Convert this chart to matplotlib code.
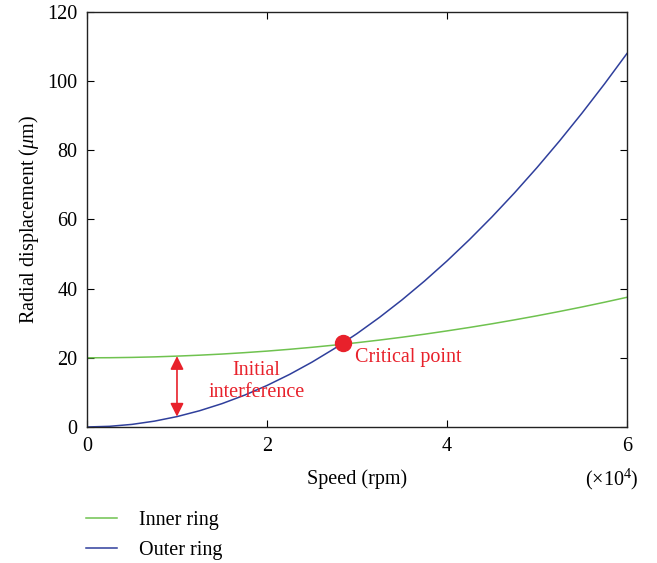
import matplotlib
matplotlib.use('Agg')
import matplotlib.pyplot as plt

plt.rcParams['font.family'] = ['Liberation Serif', 'DejaVu Serif']
plt.rcParams['mathtext.fontset'] = 'custom'
plt.rcParams['mathtext.rm'] = 'Liberation Serif'
plt.rcParams['mathtext.it'] = 'Liberation Serif:italic'

# Speed (x10^4 rpm)
speed = [0, 0.25, 0.5, 0.75, 1.0, 1.25, 1.5, 1.75, 2.0, 2.25, 2.5, 2.75, 3.0,
         3.25, 3.5, 3.75, 4.0, 4.25, 4.5, 4.75, 5.0, 5.25, 5.5, 5.75, 6.0]
# radial displacement (um)
inner_ring = [20.0, 20.03, 20.12, 20.27, 20.49, 20.76, 21.09, 21.49, 21.94, 22.46,
              23.04, 23.68, 24.37, 25.13, 25.95, 26.83, 27.78, 28.78, 29.84, 30.97,
              32.15, 33.40, 34.70, 36.07, 37.5]
outer_ring = [0.0, 0.19, 0.75, 1.69, 3.0, 4.69, 6.75, 9.19, 12.0, 15.19, 18.75,
              22.69, 27.0, 31.69, 36.75, 42.19, 48.0, 54.19, 60.75, 67.69, 75.0,
              82.69, 90.75, 99.19, 108.0]

critical_x, critical_y = 2.84, 24.3
arrow_x, arrow_top, arrow_bottom = 1.0, 20.5, 3.0

red = '#E8212B'
green = '#6FC24F'
blue = '#2F3F9C'
fs = 14.5

fig = plt.figure(figsize=(6.57, 5.63), dpi=100)
ax = fig.add_axes([0.1324, 0.2416, 0.8219, 0.7371])

l1, = ax.plot(speed, inner_ring, color=green, lw=1.1, label='Inner ring')
l2, = ax.plot(speed, outer_ring, color=blue, lw=1.1, label='Outer ring')

ax.plot([critical_x], [critical_y], 'o', color=red, markersize=11.5, zorder=5)
ax.text(critical_x + 0.14, critical_y - 4.2, 'Critical point', color=red,
        fontsize=fs, ha='left', va='center')

ax.annotate('', xy=(arrow_x, arrow_bottom), xytext=(arrow_x, arrow_top),
            arrowprops=dict(arrowstyle='<|-|>', color=red, lw=1.2,
                            mutation_scale=20, shrinkA=0, shrinkB=0))
ax.text(1.88, 13.2, 'Initial\ninterference', color=red, fontsize=fs,
        ha='center', va='center', linespacing=1.2)

ax.set_xlim(0, 6)
ax.set_ylim(0, 120)
ax.set_xticks([0, 2, 4, 6])
ax.set_yticks([0, 20, 40, 60, 80, 100, 120])
ax.tick_params(direction='in', top=True, right=True, labelsize=fs, length=5,
               width=0.8, pad=7)
for s in ax.spines.values():
    s.set_linewidth(1.0)
    s.set_color('#222222')

ax.set_xlabel('Speed (rpm)', fontsize=fs, labelpad=10)
ax.set_ylabel(r'Radial displacement ($\mu$m)', fontsize=fs, labelpad=4)
ax.text(0.972, -0.126, r'($\times$10$^{4}$)', transform=ax.transAxes,
        fontsize=fs, ha='center', va='center')

fig.legend(handles=[l1, l2], loc='upper left', bbox_to_anchor=(0.103, 0.125),
           frameon=False, fontsize=fs, handlelength=1.55, handletextpad=1.1,
           labelspacing=0.55)

plt.savefig('out.png', dpi=100)
